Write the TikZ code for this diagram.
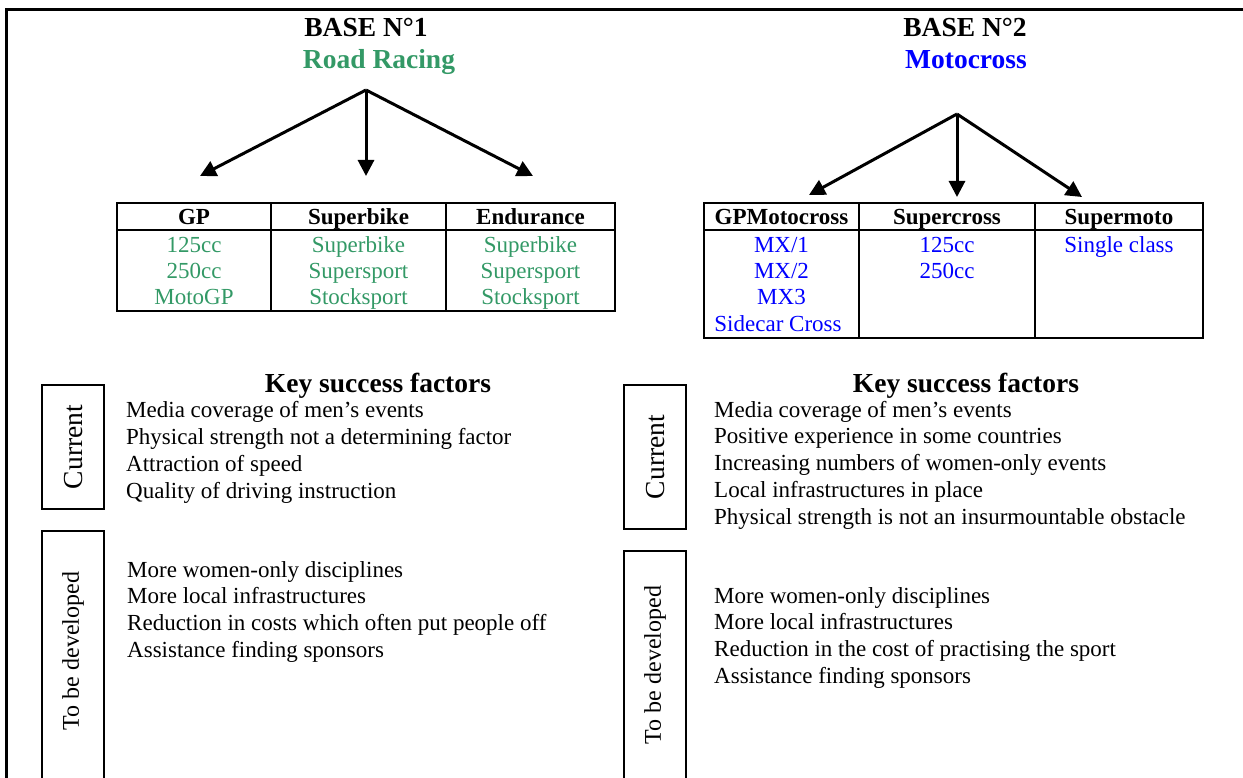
\documentclass[tikz,border=0pt]{standalone}
\usepackage{fontspec}
\setmainfont{Liberation Serif}
\usetikzlibrary{arrows.meta}
\definecolor{rrgreen}{RGB}{51,153,102}
\definecolor{mxblue}{RGB}{0,0,255}
\begin{document}
\begin{tikzpicture}[x=1pt,y=-1pt,
  title/.style={font=\fontsize{27.5}{32}\selectfont\bfseries, anchor=base, inner sep=0},
  head/.style={font=\fontsize{23}{26}\selectfont\bfseries, anchor=base, inner sep=0},
  cell/.style={font=\fontsize{23}{26}\selectfont, anchor=base, inner sep=0},
  item/.style={font=\fontsize{23}{26}\selectfont, anchor=base west, inner sep=0},
  frame/.style={line width=3pt},
  tbl/.style={line width=2.5pt},
  sidebox/.style={draw, line width=1.5pt},
  side/.style={rotate=90, inner sep=0},
  arr/.style={line width=3pt, -{Triangle[length=16pt,width=16pt]}}
]
\useasboundingbox (0,0) rectangle (1243,778);
\clip (0,0) rectangle (1243,778);
% frame
\draw[frame] (6,790) -- (6,10) -- (1250,10);
% titles
\node[title] (b1) at (366,37) {BASE N°1};
\node[title, text=rrgreen] (r1) at (379,69) {Road Racing};
\node[title] (b2) at (965,37) {BASE N°2};
\node[title, text=mxblue] (r2) at (966,69) {Motocross};
% arrows base 1
\coordinate (p1) at (366,90);
\coordinate (p1l) at (200,176);
\coordinate (p1m) at (366,176);
\coordinate (p1r) at (533,176);
\draw[arr] (p1) -- (p1l);
\draw[arr] (p1) -- (p1m);
\draw[arr] (p1) -- (p1r);
% arrows base 2
\coordinate (p2) at (957,114);
\coordinate (p2l) at (809,195);
\coordinate (p2m) at (957,197);
\coordinate (p2r) at (1082,197);
\draw[arr] (p2) -- (p2l);
\draw[arr] (p2) -- (p2m);
\draw[arr] (p2) -- (p2r);
% table 1
\draw[tbl] (117,203) rectangle (615,311);
\draw[tbl] (117,230) -- (615,230);
\draw[tbl] (271,203) -- (271,311);
\draw[tbl] (446,203) -- (446,311);
\node[head] (h11) at (194,225) {GP};
\node[head] (h12) at (358.5,225) {Superbike};
\node[head] (h13) at (530.5,225) {Endurance};
\begin{scope}[every node/.append style={text=rrgreen}]
\node[cell] (c111) at (194,253) {125cc};
\node[cell] (c112) at (194,279) {250cc};
\node[cell] (c113) at (194,305) {MotoGP};
\node[cell] (c121) at (358.5,253) {Superbike};
\node[cell] (c122) at (358.5,279) {Supersport};
\node[cell] (c123) at (358.5,305) {Stocksport};
\node[cell] (c131) at (530.5,253) {Superbike};
\node[cell] (c132) at (530.5,279) {Supersport};
\node[cell] (c133) at (530.5,305) {Stocksport};
\end{scope}
% table 2
\draw[tbl] (704,203) rectangle (1203,338);
\draw[tbl] (704,230) -- (1203,230);
\draw[tbl] (859,203) -- (859,338);
\draw[tbl] (1035,203) -- (1035,338);
\node[head] (h21) at (781.5,225) {GPMotocross};
\node[head] (h22) at (947,225) {Supercross};
\node[head] (h23) at (1119,225) {Supermoto};
\begin{scope}[every node/.append style={text=mxblue}]
\node[cell] (c211) at (781.5,253) {MX/1};
\node[cell] (c212) at (781.5,279) {MX/2};
\node[cell] (c213) at (781.5,305) {MX3};
\node[cell] (c214) at (778,331) {Sidecar Cross};
\node[cell] (c221) at (947,253) {125cc};
\node[cell] (c222) at (947,279) {250cc};
\node[cell] (c231) at (1119,253) {Single class};
\end{scope}
% key success factors
\node[title] (k1) at (378,392) {Key success factors};
\node[title] (k2) at (966,392) {Key success factors};
% side boxes
\draw[sidebox] (42,385) rectangle (104,509);
\node[side, font=\fontsize{27.5}{30}\selectfont] (s1) at (74,447) {Current};
\draw[sidebox] (42,531) rectangle (104,800);
\node[side, font=\fontsize{24}{27}\selectfont] (s2) at (73,651) {To be developed};
\draw[sidebox] (624,385) rectangle (686,529);
\node[side, font=\fontsize{27.5}{30}\selectfont] (s3) at (656,457) {Current};
\draw[sidebox] (624,551) rectangle (686,800);
\node[side, font=\fontsize{24}{27}\selectfont] (s4) at (655,665) {To be developed};
% lists
\foreach \t [count=\i] in {Media coverage of men’s events, Physical strength not a determining factor, Attraction of speed, Quality of driving instruction}
  \node[item] (l1\i) at (126,{417+27*(\i-1)}) {\t};
\foreach \t [count=\i] in {More women-only disciplines, More local infrastructures, Reduction in costs which often put people off, Assistance finding sponsors}
  \node[item] (l2\i) at (127,{577+26.7*(\i-1)}) {\t};
\foreach \t [count=\i] in {Media coverage of men’s events, Positive experience in some countries, Increasing numbers of women-only events, Local infrastructures in place, Physical strength is not an insurmountable obstacle}
  \node[item] (r1\i) at (714,{417+26.8*(\i-1)}) {\t};
\foreach \t [count=\i] in {More women-only disciplines, More local infrastructures, Reduction in the cost of practising the sport, Assistance finding sponsors}
  \node[item] (r2\i) at (714,{603+26.7*(\i-1)}) {\t};
\end{tikzpicture}
\end{document}
